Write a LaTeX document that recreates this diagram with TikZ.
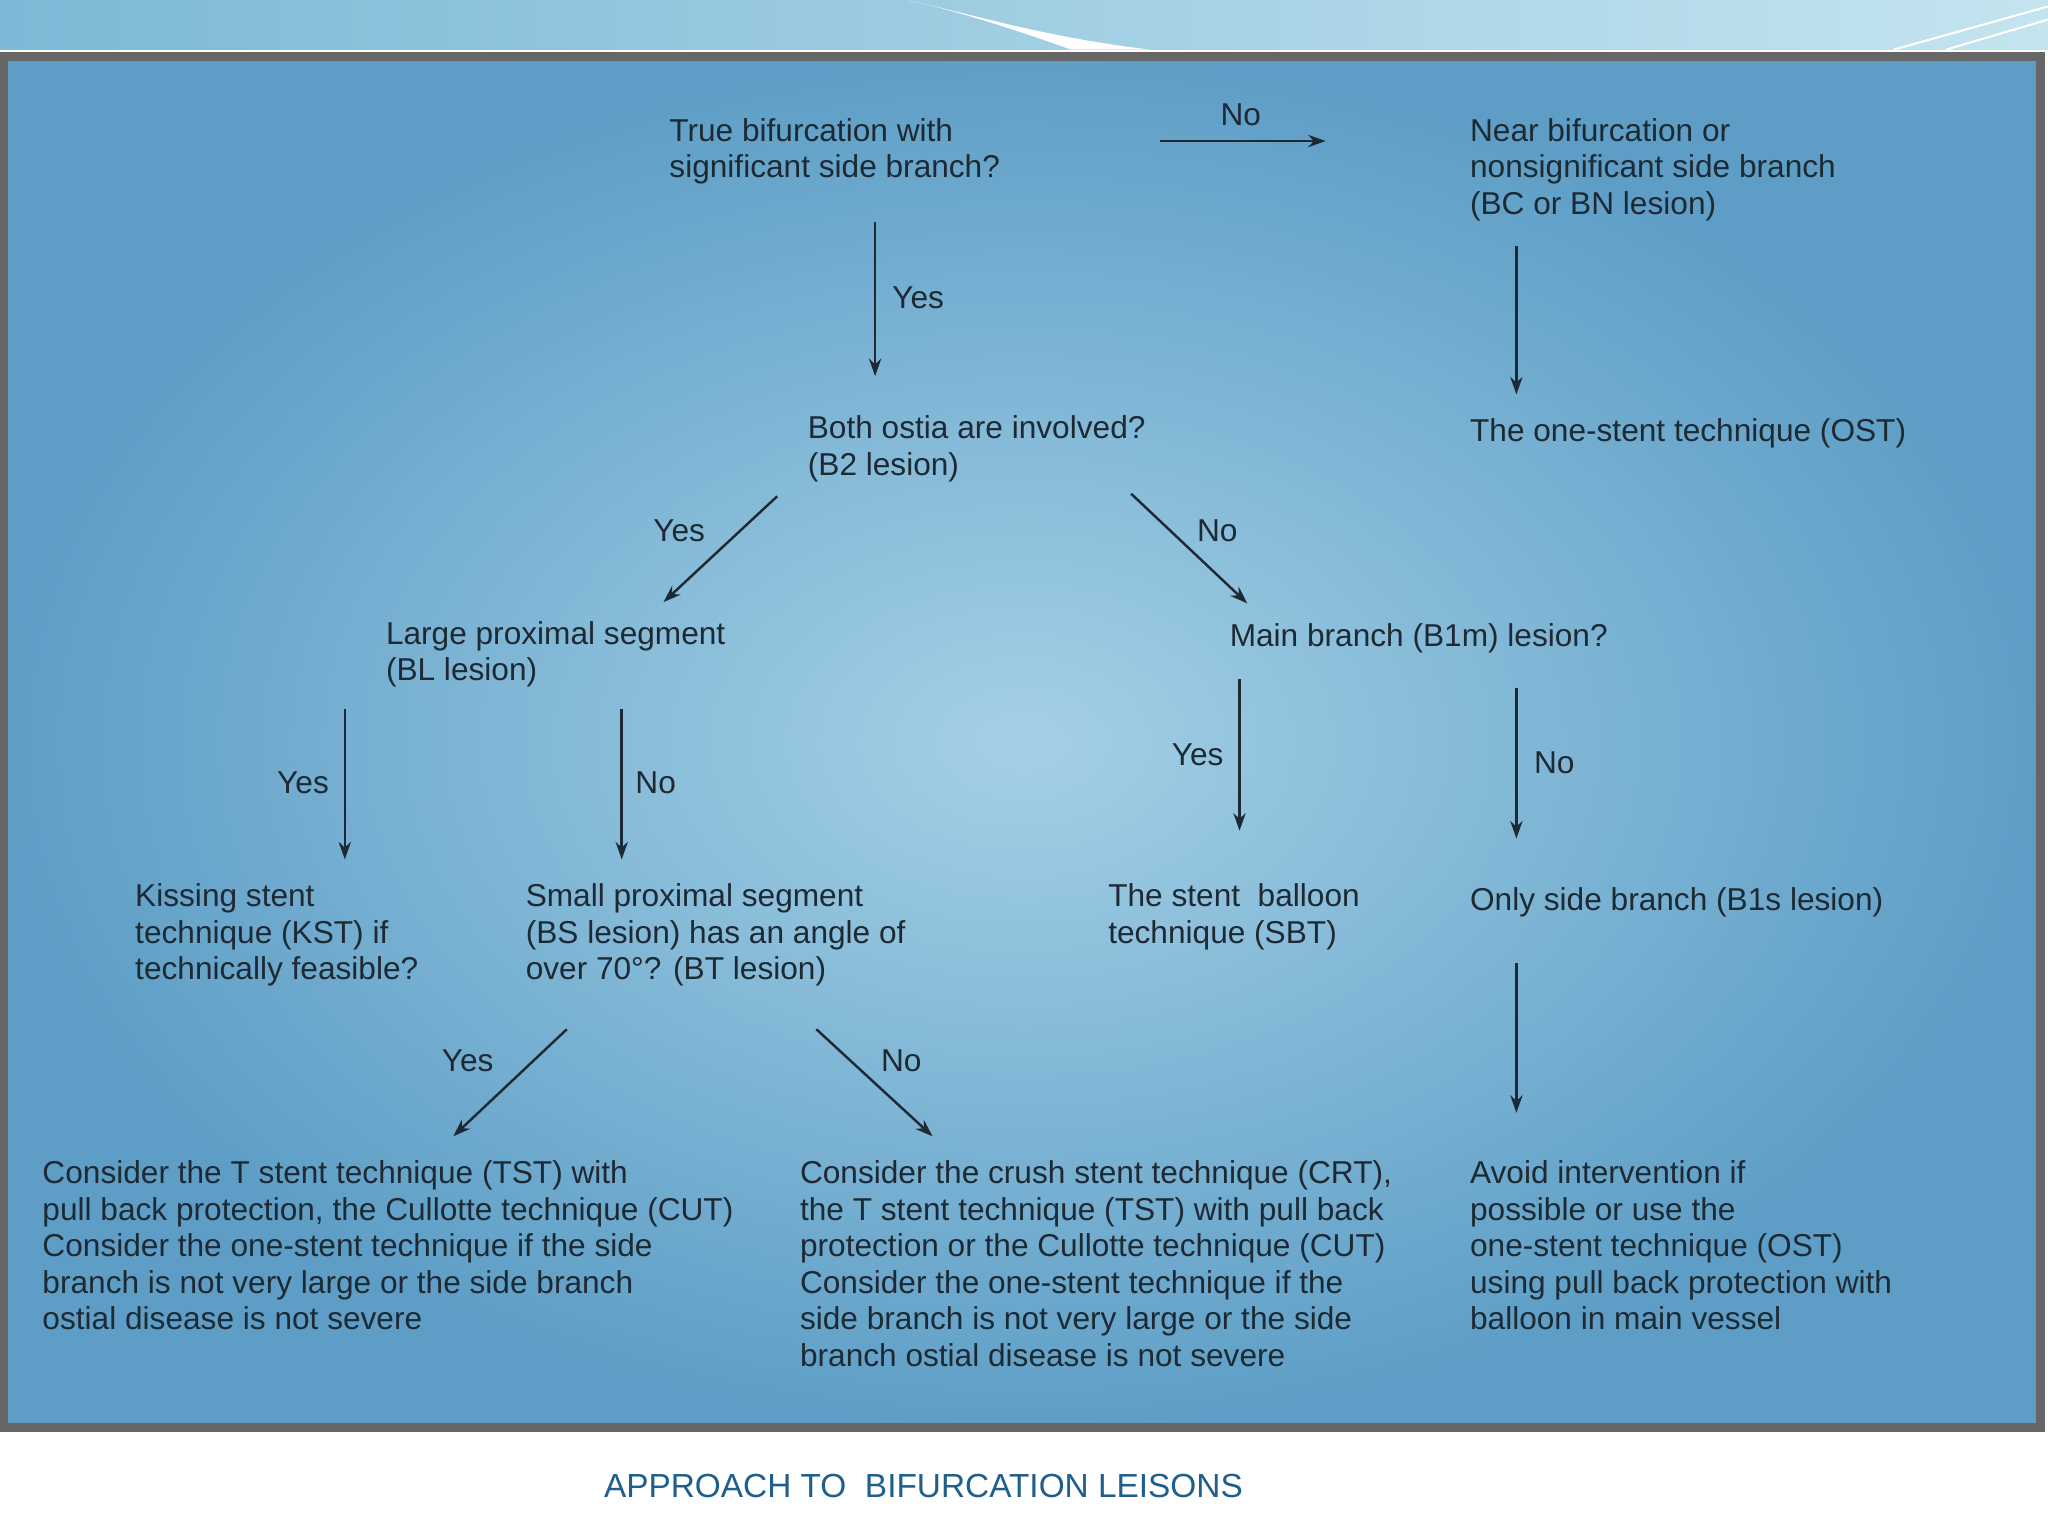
\documentclass[tikz,border=0pt]{standalone}
\usepackage{fontspec}
\setmainfont{Liberation Sans}
\usetikzlibrary{arrows.meta}
\definecolor{txt}{HTML}{1E2A33}
\definecolor{cap}{HTML}{1F5F8B}
\definecolor{pin}{HTML}{A4D0E6}
\definecolor{pout}{HTML}{5E9EC6}
\definecolor{bl}{HTML}{7DB8D6}
\definecolor{br}{HTML}{C3E4EF}
\tikzset{
  lab/.style={anchor=north west,inner sep=0pt,align=left,text=txt,font=\fontsize{9}{10.4}\selectfont},
  yn/.style={inner sep=0pt,text=txt,font=\fontsize{9}{10.4}\selectfont},
  arr/.style={-{Stealth[length=5pt,width=3.5pt]},line width=0.7pt,draw=txt}
}
\begin{document}
\begin{tikzpicture}[x=0.01306cm,y=-0.01306cm]
\useasboundingbox (0,0) rectangle (1568,1176);
\fill[white] (0,0) rectangle (1568,1176);
% top band
\shade[left color=bl,right color=br] (0,0) rectangle (1568,38);
\fill[white] (695,0) .. controls (760,15) and (800,28) .. (880,38) -- (820,38) .. controls (770,20) and (730,8) .. (695,0) -- cycle;
\draw[white,line width=0.6pt] (1450,38) -- (1568,5) (1490,38) -- (1568,15);
% panel
\shade[inner color=pin,outer color=pout,shading=radial]
  (3,43) rectangle (1562,1093);
\draw[line width=2.5pt,draw=black!60] (3,43) rectangle (1562,1093);
% texts
\node[lab] (q1) at (512,90) {True bifurcation with\\significant side branch?};
\node[lab] (nb) at (1125,90) {Near bifurcation or\\nonsignificant side branch\\(BC or BN lesion)};
\node[lab] (q2) at (618,318) {Both ostia are involved?\\(B2 lesion)};
\node[lab] (ost) at (1125,320) {The one-stent technique (OST)};
\node[lab] (bl) at (295,475) {Large proximal segment\\(BL lesion)};
\node[lab] (b1m) at (941,477) {Main branch (B1m) lesion?};
\node[lab] (kst) at (103,676) {Kissing stent\\technique (KST) if\\technically feasible?};
\node[lab] (bs) at (402,676) {Small proximal segment\\(BS lesion) has an angle of\\over 70°? (BT lesion)};
\node[lab] (sbt) at (848,676) {The stent\ \ balloon\\technique (SBT)};
\node[lab] (b1s) at (1125,679) {Only side branch (B1s lesion)};
\node[lab] (c1) at (32,888) {Consider the T stent technique (TST) with\\pull back protection, the Cullotte technique (CUT)\\Consider the one-stent technique if the side\\branch is not very large or the side branch\\ostial disease is not severe};
\node[lab] (c2) at (612,888) {Consider the crush stent technique (CRT),\\the T stent technique (TST) with pull back\\protection or the Cullotte technique (CUT)\\Consider the one-stent technique if the\\side branch is not very large or the side\\branch ostial disease is not severe};
\node[lab] (c3) at (1125,888) {Avoid intervention if\\possible or use the\\one-stent technique (OST)\\using pull back protection with\\balloon in main vessel};
% arrow coordinates
\coordinate (a1s) at (888,108); \coordinate (a1e) at (1015,108);
\coordinate (a2s) at (670,170); \coordinate (a2e) at (670,288);
\coordinate (a3s) at (1161,188); \coordinate (a3e) at (1161,302);
\coordinate (a4s) at (595,380); \coordinate (a4e) at (508,461);
\coordinate (a5s) at (866,378); \coordinate (a5e) at (955,462);
\coordinate (a6s) at (264,543); \coordinate (a6e) at (264,658);
\coordinate (a7s) at (476,543); \coordinate (a7e) at (476,658);
\coordinate (a8s) at (949,520); \coordinate (a8e) at (949,636);
\coordinate (a9s) at (1161,527); \coordinate (a9e) at (1161,642);
\coordinate (a10s) at (1161,737); \coordinate (a10e) at (1161,852);
\coordinate (a11s) at (434,788); \coordinate (a11e) at (347,870);
\coordinate (a12s) at (625,788); \coordinate (a12e) at (714,870);
\foreach \i in {1,...,12} \draw[arr] (a\i s) -- (a\i e);
% yes/no labels
\node[yn] (l1) at (950,88) {No};
\node[yn] (l2) at (703,228) {Yes};
\node[yn] (l3) at (520,406) {Yes};
\node[yn] (l4) at (932,406) {No};
\node[yn] (l5) at (232,599) {Yes};
\node[yn] (l6) at (502,599) {No};
\node[yn] (l7) at (917,578) {Yes};
\node[yn] (l8) at (1190,584) {No};
\node[yn] (l9) at (358,812) {Yes};
\node[yn] (l10) at (690,812) {No};
% caption
\node[inner sep=0pt,text=cap,font=\fontsize{9.5}{11}\selectfont] (capt) at (707,1138) {APPROACH TO\ \ BIFURCATION LEISONS};
\end{tikzpicture}
\end{document}
